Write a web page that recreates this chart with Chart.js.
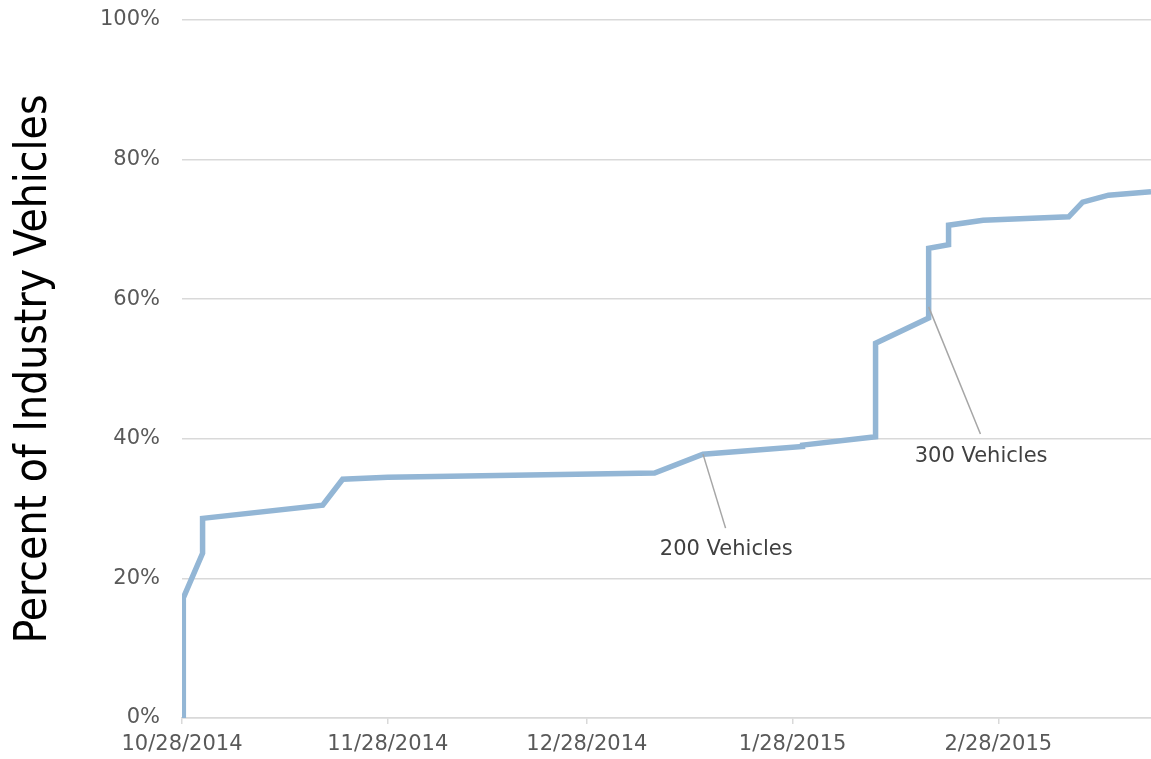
<!DOCTYPE html>
<html>
<head>
<meta charset="utf-8">
<script src="https://cdn.jsdelivr.net/npm/chart.js@4"></script>
<style>
  html, body { margin: 0; padding: 0; background: #fff; }
  #wrap { width: 1151px; height: 759px; }
</style>
</head>
<body>
<div id="wrap"><canvas id="chart"></canvas></div>
<script>
// days since 10/28/2014
const days = [0.2, 0.2, 3.1, 3.1, 21.2, 24.2, 31, 71.2, 78.5, 93.5, 93.5, 104.5, 104.5, 112.5, 112.5, 115.5, 115.5, 120.7, 133.6, 135.7, 139.6, 146];
const pct = [0, 17.2, 23.6, 28.6, 30.5, 34.2, 34.5, 35.1, 37.8, 38.9, 39.1, 40.3, 53.7, 57.3, 67.3, 67.8, 70.6, 71.3, 71.8, 73.9, 74.9, 75.4];

const tickDays = [0, 31, 61, 92, 123];
const tickLabels = ['10/28/2014', '11/28/2014', '12/28/2014', '1/28/2015', '2/28/2015'];

// callouts: text, point on line, end of leader, label centre
const calloutText = ['200 Vehicles', '300 Vehicles'];
const calloutFrom = [[78.5, 37.8], [112.5, 58.9]];
const calloutTo = [[81.9, 27.2], [120.3, 40.7]];
const calloutAt = [[82.0, 24.2], [120.4, 37.5]];

const callouts = {
    id: 'callouts',
    afterDatasetsDraw(chart) {
        const ctx = chart.ctx;
        const xs = chart.scales.x, ys = chart.scales.y;
        ctx.save();
        ctx.strokeStyle = '#a6a6a6';
        ctx.lineWidth = 1.5;
        ctx.fillStyle = '#404040';
        ctx.font = '21px "DejaVu Sans"';
        ctx.textAlign = 'center';
        ctx.textBaseline = 'middle';
        calloutText.forEach((t, i) => {
            ctx.beginPath();
            ctx.moveTo(xs.getPixelForValue(calloutFrom[i][0]), ys.getPixelForValue(calloutFrom[i][1]));
            ctx.lineTo(xs.getPixelForValue(calloutTo[i][0]), ys.getPixelForValue(calloutTo[i][1]));
            ctx.stroke();
            ctx.fillText(t, xs.getPixelForValue(calloutAt[i][0]), ys.getPixelForValue(calloutAt[i][1]));
        });
        ctx.restore();
    }
};

new Chart(document.getElementById('chart'), {
    type: 'line',
    data: {
        datasets: [{
            data: days.map((d, i) => ({ x: d, y: pct[i] })),
            borderColor: 'rgb(147,182,213)',
            borderWidth: 5.5,
            pointRadius: 0,
            tension: 0,
            fill: false
        }]
    },
    options: {
        responsive: true,
        maintainAspectRatio: false,
        animation: false,
        layout: { padding: { top: 20, right: 0, bottom: 0, left: 0 } },
        plugins: { legend: { display: false }, tooltip: { enabled: false } },
        scales: {
            x: {
                type: 'linear',
                min: 0,
                max: 146,
                afterBuildTicks: (scale) => { scale.ticks = tickDays.map(v => ({ value: v })); },
                afterFit: (scale) => { scale.height = 41; scale.paddingLeft = 0; scale.paddingRight = 0; },
                grid: { drawOnChartArea: false, color: '#d9d9d9', tickLength: 6, lineWidth: 1.5 },
                border: { color: '#d9d9d9', width: 1.5 },
                ticks: {
                    autoSkip: false,
                    maxRotation: 0,
                    padding: 8,
                    color: '#595959',
                    font: { family: 'DejaVu Sans', size: 21 },
                    callback: (v) => tickLabels[tickDays.indexOf(v)]
                }
            },
            y: {
                min: 0,
                max: 100,
                afterFit: (scale) => { scale.width = 182; scale.paddingTop = 0; scale.paddingBottom = 0; },
                grid: { color: '#d9d9d9', lineWidth: 1.5, drawTicks: false },
                border: { display: false },
                ticks: {
                    stepSize: 20,
                    padding: 22,
                    color: '#595959',
                    font: { family: 'DejaVu Sans', size: 21 },
                    callback: (v) => v + '%'
                },
                title: {
                    display: true,
                    text: 'Percent of Industry Vehicles',
                    color: '#000',
                    font: { family: '"DejaVu Sans Condensed", "DejaVu Sans", sans-serif', size: 44 },
                    padding: { top: 8, bottom: 0 }
                }
            }
        }
    },
    plugins: [callouts]
});
</script>
</body>
</html>
